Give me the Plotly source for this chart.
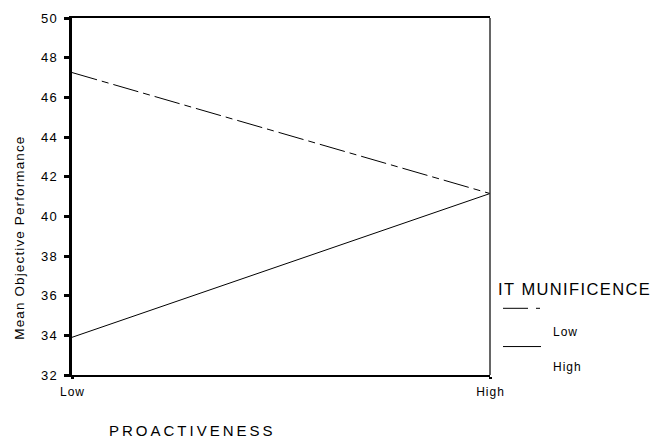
import plotly.graph_objects as go

# Interaction plot: mean objective performance by proactiveness and IT munificence
proactiveness = ["Low", "High"]
munificence_low = [47.25, 41.15]
munificence_high = [33.9, 41.15]
y_ticks = [32, 34, 36, 38, 40, 42, 44, 46, 48, 50]
legend_title = "IT MUNIFICENCE"
legend_labels = ["Low", "High"]
x_title = "PROACTIVENESS"
y_title = "Mean Objective Performance"

FONT = "Liberation Sans, Arial, sans-serif"
HAIR = "\u200a"
THIN = "\u2009"


def spaced(text, sep=HAIR):
    """Open up letter spacing the way the exported SPSS chart shows it."""
    return sep.join(text)


DASH = "26px,5px,7px,5px"

fig = go.Figure()
fig.add_trace(go.Scatter(
    x=proactiveness, y=munificence_low, mode="lines", name=legend_labels[0],
    line=dict(color="black", width=1, dash=DASH),
))
fig.add_trace(go.Scatter(
    x=proactiveness, y=munificence_high, mode="lines", name=legend_labels[1],
    line=dict(color="black", width=1),
))

L, R, T, B = 72, 163, 11, 68
W, H = 653 - L - R, 443 - T - B

fig.update_layout(
    width=653, height=443,
    margin=dict(l=L, r=R, t=T, b=B, pad=0),
    paper_bgcolor="white", plot_bgcolor="white",
    showlegend=False,
    font=dict(family=FONT, color="black", size=13),
    xaxis=dict(
        type="category", range=[0, 1], showgrid=False, zeroline=False,
        showline=True, linecolor="black", linewidth=2, mirror=True,
        ticks="outside", ticklen=2, tickwidth=3, tickcolor="black",
        tickvals=proactiveness, ticktext=[spaced(t) for t in proactiveness],
        ticklabelstandoff=3,
        tickfont=dict(size=12, family=FONT),
    ),
    yaxis=dict(
        range=[32, 50], tickvals=y_ticks, ticktext=[spaced(str(v)) for v in y_ticks],
        showgrid=False, zeroline=False,
        showline=True, linecolor="black", linewidth=2.5,
        ticks="outside", ticklen=5, tickwidth=3, tickcolor="black",
        ticklabelstandoff=5,
        tickfont=dict(size=13, family=FONT),
    ),
)

# thin right border of the frame
fig.add_shape(type="line", xref="paper", yref="paper", x0=1, x1=1, y0=0, y1=1,
              line=dict(color="#333333", width=1.5))


def px(xp):
    return (xp - L) / W


def py(yp):
    return (T + H - yp) / H


# axis titles
fig.add_annotation(text=spaced(y_title), xref="paper", yref="paper",
                   x=px(20), y=py(236), xanchor="center", yanchor="middle",
                   textangle=-90, showarrow=False, font=dict(size=13.5, family=FONT))
fig.add_annotation(text=spaced(x_title, THIN), xref="paper", yref="paper",
                   x=px(107), y=py(432), xanchor="left", yanchor="middle",
                   showarrow=False, font=dict(size=15, family=FONT))

# legend block
fig.add_annotation(text=spaced(legend_title), xref="paper", yref="paper",
                   x=px(496), y=py(287), xanchor="left", yanchor="middle",
                   showarrow=False, font=dict(size=16.5, family=FONT))
fig.add_shape(type="line", xref="paper", yref="paper", x0=px(503), x1=px(540),
              y0=py(307), y1=py(307),
              line=dict(color="black", width=1, dash="25px,8px,4px,8px"))
fig.add_annotation(text=spaced(legend_labels[0]), xref="paper", yref="paper",
                   x=px(551), y=py(331), xanchor="left", yanchor="middle",
                   showarrow=False, font=dict(size=12, family=FONT))
fig.add_shape(type="line", xref="paper", yref="paper", x0=px(503), x1=px(541),
              y0=py(346), y1=py(346), line=dict(color="black", width=1))
fig.add_annotation(text=spaced(legend_labels[1]), xref="paper", yref="paper",
                   x=px(551), y=py(367), xanchor="left", yanchor="middle",
                   showarrow=False, font=dict(size=12, family=FONT))

fig.write_html("out.html")
